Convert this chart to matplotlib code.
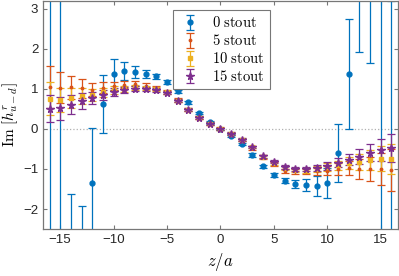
#
# Im[h^r_{u-d}] vs z/a for different stout smearing steps
#

import numpy as np
import matplotlib.pyplot as plt

plt.rcParams['mathtext.fontset'] = 'cm'
plt.rcParams['font.family'] = ['Liberation Sans', 'DejaVu Sans']

# data
z = np.arange(-16, 17)

# 0 stout
val0 = [3.8, -3.0, -3.5, -3.2, -1.35, 0.62, 1.36, 1.44, 1.42, 1.38, 1.31, 1.17, 0.94, 0.66, 0.39, 0.16, 0.0,
        -0.17, -0.38, -0.65, -0.93, -1.16, -1.29, -1.37, -1.41, -1.43, -1.35, -0.60, 1.36, 3.4, 3.5, 3.5, -3.8]
err0 = [7.0, 6.5, 1.88, 1.28, 1.37, 0.73, 0.38, 0.22, 0.14, 0.10, 0.07, 0.05, 0.04, 0.04, 0.03, 0.03, 0.03,
        0.03, 0.03, 0.04, 0.04, 0.05, 0.07, 0.10, 0.15, 0.25, 0.38, 0.73, 1.37, 1.48, 1.87, 6.5, 7.0]

# 5 stout
val5 = [1.04, 1.03, 1.04, 1.01, 0.98, 1.03, 1.07, 1.10, 1.13, 1.08, 1.03, 0.93, 0.72, 0.49, 0.28, 0.13, 0.01,
        -0.13, -0.28, -0.48, -0.70, -0.88, -1.04, -1.06, -1.06, -1.06, -1.04, -1.00, -0.98, -1.00, -1.00, -1.00, -1.03]
err5 = [0.52, 0.38, 0.29, 0.23, 0.17, 0.14, 0.11, 0.09, 0.07, 0.06, 0.05, 0.05, 0.04, 0.04, 0.03, 0.03, 0.03,
        0.03, 0.03, 0.04, 0.04, 0.05, 0.05, 0.06, 0.07, 0.09, 0.11, 0.14, 0.18, 0.24, 0.31, 0.40, 0.53]

# 10 stout
val10 = [0.75, 0.72, 0.77, 0.82, 0.85, 0.91, 0.96, 1.00, 1.03, 1.02, 0.99, 0.91, 0.70, 0.48, 0.28, 0.13, 0.0,
         -0.12, -0.27, -0.46, -0.69, -0.85, -0.98, -1.02, -1.03, -1.00, -0.96, -0.91, -0.86, -0.82, -0.78, -0.74, -0.75]
err10 = [0.41, 0.30, 0.25, 0.20, 0.15, 0.12, 0.10, 0.08, 0.06, 0.05, 0.05, 0.04, 0.04, 0.03, 0.03, 0.03, 0.03,
         0.03, 0.03, 0.03, 0.04, 0.04, 0.05, 0.05, 0.06, 0.08, 0.10, 0.12, 0.15, 0.20, 0.25, 0.32, 0.38]

# 15 stout
val15 = [0.50, 0.51, 0.60, 0.69, 0.78, 0.84, 0.93, 0.97, 1.00, 1.00, 0.97, 0.90, 0.70, 0.48, 0.28, 0.13, 0.0,
         -0.12, -0.27, -0.45, -0.68, -0.82, -0.95, -1.00, -1.00, -0.98, -0.92, -0.84, -0.77, -0.69, -0.59, -0.52, -0.48]
err15 = [0.34, 0.28, 0.24, 0.20, 0.15, 0.12, 0.10, 0.08, 0.06, 0.05, 0.05, 0.04, 0.04, 0.03, 0.03, 0.03, 0.03,
         0.03, 0.03, 0.03, 0.04, 0.04, 0.05, 0.05, 0.06, 0.08, 0.10, 0.12, 0.14, 0.18, 0.22, 0.27, 0.35]

labels = ['0 stout', '5 stout', '10 stout', '15 stout']
colors = ['#0072BD', '#D95319', '#EDB120', '#7E2F8E']
markers = ['o', '.', 's', '*']
msizes = [3.5, 3.5, 3.5, 5.5]

### figure
fig = plt.figure(figsize=[3.99, 2.76], dpi=100, facecolor='w')
ax = fig.add_axes([0.108, 0.170, 0.889, 0.828])

ax.axhline(0, color='#b0b0b0', linestyle=':', linewidth=0.9, zorder=0)

for val, err, lab, col, mk, ms in zip([val0, val5, val10, val15], [err0, err5, err10, err15],
                                      labels, colors, markers, msizes):
    ax.errorbar(z, val, yerr=err, fmt=mk, color=col, markersize=ms, elinewidth=0.9,
                capsize=3.2, capthick=0.9, label=r'$\mathrm{' + lab.replace(' ', r'\ ') + '}$')

ax.set_xlim([-16.6, 16.6])
ax.set_ylim([-2.5, 3.2])
ax.set_xticks([-15, -10, -5, 0, 5, 10, 15])
ax.set_yticks([-2, -1, 0, 1, 2, 3])
ax.set_xlabel(r'$z/a$', fontsize=12, labelpad=4)
ax.set_ylabel(r'$\mathrm{Im}\ [h^{r}_{u-d}]$', fontsize=11, labelpad=2)

for axis in ['top', 'bottom', 'left', 'right']:
    ax.spines[axis].set_linewidth(0.9)
    ax.spines[axis].set_color('#777777')
ax.tick_params(direction='in', length=3, width=0.8, colors='#777777', labelcolor='#262626',
               top=True, right=True, labelsize=9.5)

leg = ax.legend(loc='upper right', bbox_to_anchor=(0.639, 0.957), borderaxespad=0, fontsize=10.5,
                fancybox=False, framealpha=1, edgecolor='#777777', handlelength=1.6,
                handletextpad=0.7, labelspacing=0.2, borderpad=0.35)
leg.get_frame().set_linewidth(0.8)

plt.savefig('out.png', dpi=100, facecolor='w')
